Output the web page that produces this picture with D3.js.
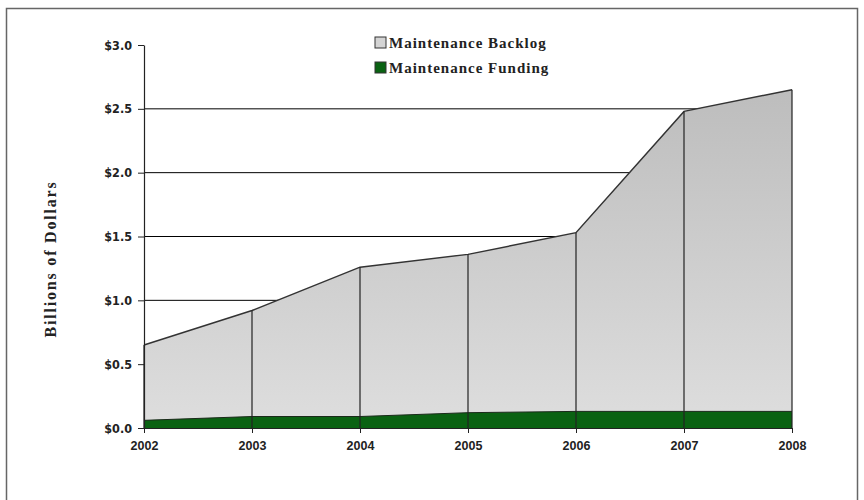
<!DOCTYPE html>
<html>
<head>
<meta charset="utf-8">
<script src="https://cdn.jsdelivr.net/npm/d3@7"></script>
<style>
  body { margin: 0; background: #fff; }
  svg { display: block; }
</style>
</head>
<body>
<svg id="chart" width="864" height="500"></svg>
<script>
const years = [2002, 2003, 2004, 2005, 2006, 2007, 2008];
const backlog = [0.65, 0.92, 1.26, 1.36, 1.53, 2.48, 2.65];
const funding = [0.06, 0.09, 0.09, 0.12, 0.13, 0.13, 0.13];
const yTicks = [0, 0.5, 1.0, 1.5, 2.0, 2.5, 3.0];
const gridTicks = [0.5, 1.0, 1.5, 2.0, 2.5];
const seriesNames = ["Maintenance Backlog", "Maintenance Funding"];

const svg = d3.select("#chart");

// cadre
svg.append("rect")
    .attr("x", 6.5).attr("y", 8.5)
    .attr("width", 851).attr("height", 500)
    .attr("fill", "none")
    .attr("stroke", "#666")
    .attr("stroke-width", 1.5);

const x = d3.scaleLinear().domain([2002, 2008]).range([144, 792]);
const y = d3.scaleLinear().domain([0, 3]).range([428, 45]);

// degradé de l'aire
const grad = svg.append("defs").append("linearGradient")
    .attr("id", "gris")
    .attr("x1", 0).attr("y1", 0).attr("x2", 0).attr("y2", 1);
grad.append("stop").attr("offset", "0%").attr("stop-color", "#bdbdbd");
grad.append("stop").attr("offset", "100%").attr("stop-color", "#dedede");

// lignes de grille
svg.append("g")
    .selectAll("line")
    .data(gridTicks)
    .enter()
    .append("line")
    .attr("x1", x(2002)).attr("x2", x(2008))
    .attr("y1", d => y(d)).attr("y2", d => y(d))
    .attr("stroke", "#000")
    .attr("stroke-width", 1);

const data = years.map((yr, i) => ({ year: yr, b: backlog[i], f: funding[i] }));

// aire backlog
svg.append("path")
    .datum(data)
    .attr("fill", "url(#gris)")
    .attr("d", d3.area().x(d => x(d.year)).y0(y(0)).y1(d => y(d.b)));

svg.append("path")
    .datum(data)
    .attr("fill", "none")
    .attr("stroke", "#333")
    .attr("stroke-width", 1.5)
    .attr("d", d3.line().x(d => x(d.year)).y(d => y(d.b)));

// aire financement
svg.append("path")
    .datum(data)
    .attr("fill", "#0a6212")
    .attr("d", d3.area().x(d => x(d.year)).y0(y(0)).y1(d => y(d.f)));

svg.append("path")
    .datum(data)
    .attr("fill", "none")
    .attr("stroke", "#1a2a1a")
    .attr("stroke-width", 1)
    .attr("d", d3.line().x(d => x(d.year)).y(d => y(d.f)));

// lignes verticales
svg.append("g")
    .selectAll("line")
    .data(data)
    .enter()
    .append("line")
    .attr("x1", d => x(d.year)).attr("x2", d => x(d.year))
    .attr("y1", y(0)).attr("y2", d => y(d.b))
    .attr("stroke", "#222")
    .attr("stroke-width", 1.2);

// axes
const yAxis = svg.append("g")
    .attr("transform", `translate(${x(2002)},0)`)
    .call(d3.axisLeft(y).tickValues(yTicks).tickSize(6).tickSizeOuter(0)
        .tickFormat(d => "$" + d3.format(".1f")(d)));
yAxis.select(".domain").attr("stroke", "#222").attr("stroke-width", 1.2);
yAxis.selectAll(".tick line").attr("stroke", "#222");
yAxis.selectAll("text")
    .attr("font-family", "DejaVu Sans Condensed, DejaVu Sans, sans-serif")
    .attr("font-weight", "bold")
    .attr("font-size", "12.5px")
    .attr("fill", "#222")
    .attr("dx", "-3");

const xAxis = svg.append("g")
    .attr("transform", `translate(0,${y(0)})`)
    .call(d3.axisBottom(x).tickValues(years).tickSize(5).tickSizeOuter(0).tickFormat(d3.format("d")));
xAxis.select(".domain").attr("stroke", "#222").attr("stroke-width", 1.2);
xAxis.selectAll(".tick line").attr("stroke", "#222");
xAxis.selectAll("text")
    .attr("font-family", "Liberation Sans Narrow, Arial Narrow, sans-serif")
    .attr("font-weight", "bold")
    .attr("font-size", "12.5px")
    .attr("fill", "#222")
    .attr("dy", "1.1em");

// titre axe y
svg.append("text")
    .attr("transform", `translate(56,259) rotate(-90)`)
    .attr("text-anchor", "middle")
    .attr("font-family", "Liberation Serif, serif")
    .attr("font-weight", "bold")
    .attr("font-size", "16px")
    .attr("letter-spacing", "1.8px")
    .attr("fill", "#222")
    .text("Billions of Dollars");

// légende
const legendColors = ["#d4d4d4", "#0a6212"];
const legend = svg.append("g")
    .selectAll("g")
    .data(seriesNames)
    .enter()
    .append("g")
    .attr("transform", (d, i) => `translate(375,${37 + i * 25})`);
legend.append("rect")
    .attr("width", 11).attr("height", 11)
    .attr("fill", (d, i) => legendColors[i])
    .attr("stroke", "#333")
    .attr("stroke-width", 1);
legend.append("text")
    .attr("x", 14).attr("y", 10.5)
    .attr("font-family", "Liberation Serif, serif")
    .attr("font-weight", "bold")
    .attr("font-size", "15px")
    .attr("letter-spacing", "1px")
    .attr("fill", "#222")
    .text(d => d);
</script>
</body>
</html>
